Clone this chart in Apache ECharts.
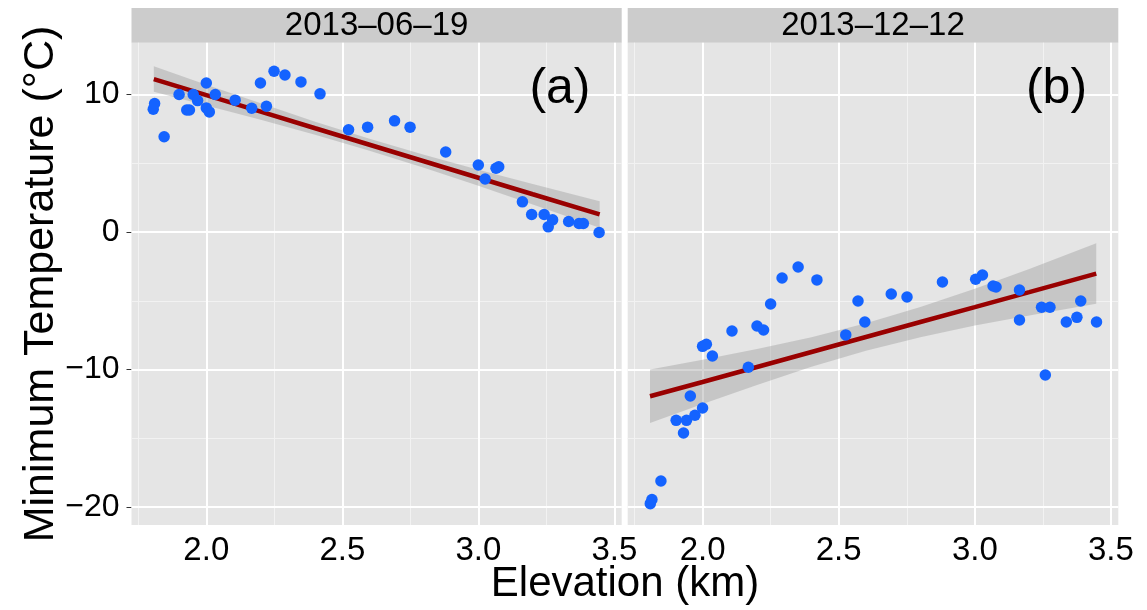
<!DOCTYPE html>
<html>
<head>
<meta charset="utf-8">
<script src="https://cdn.jsdelivr.net/npm/echarts@6/dist/echarts.min.js"></script>
<style>
  html, body { margin: 0; padding: 0; background: #fff; }
  #chart { width: 1147px; height: 610px; }
</style>
</head>
<body>
<div id="chart"></div>
<script>
// Minimum temperature vs elevation, two dates, linear fit with 95% band.
var panelDates = ["2013\u201306\u201319", "2013\u201312\u201312"];
var panelTags = ["(a)", "(b)"];

var juneElev = [1.805, 1.81, 1.845, 1.90, 1.928, 1.938, 1.952, 1.968, 2.0, 2.0, 2.011, 2.033, 2.106,
  2.167, 2.199, 2.221, 2.249, 2.289, 2.348, 2.418, 2.523, 2.593, 2.692, 2.749, 2.880, 3.0, 3.025,
  3.065, 3.075, 3.162, 3.196, 3.242, 3.257, 3.273, 3.332, 3.370, 3.386, 3.444];
var juneTemp = [8.93, 9.35, 6.93, 10.0, 8.88, 8.88, 10.0, 9.56, 10.84, 9.03, 8.74, 10.0, 9.59,
  9.0, 10.84, 9.15, 11.69, 11.42, 10.92, 10.05, 7.44, 7.63, 8.09, 7.63, 5.82, 4.88, 3.86,
  4.64, 4.75, 2.2, 1.28, 1.28, 0.38, 0.89, 0.77, 0.62, 0.62, -0.03];

var decElev = [1.808, 1.814, 1.847, 1.903, 1.930, 1.941, 1.955, 1.972, 2.0, 2.0, 2.014, 2.036, 2.108,
  2.168, 2.2, 2.224, 2.25, 2.292, 2.351, 2.42, 2.526, 2.571, 2.596, 2.693, 2.751, 2.881, 3.003,
  3.028, 3.067, 3.078, 3.164, 3.164, 3.245, 3.276, 3.259, 3.336, 3.375, 3.389, 3.447];
var decTemp = [-19.75, -19.45, -18.1, -13.69, -14.61, -13.69, -11.92, -13.32, -12.79, -8.31, -8.16, -9.01, -7.19,
  -9.83, -6.83, -7.12, -5.23, -3.34, -2.54, -3.48, -7.48, -5.01, -6.54, -4.50, -4.72, -3.63, -3.43,
  -3.12, -3.92, -3.99, -4.21, -6.39, -5.47, -5.47, -10.39, -6.54, -6.2, -5.01, -6.54];

// fitted line and band, read at a few elevations
var fitElev = [1.807, 2.0, 2.2, 2.4, 2.6, 2.8, 3.0, 3.2, 3.446];
var juneFit = [11.12, 9.96, 8.76, 7.55, 6.35, 5.15, 3.95, 2.75, 1.28];
var juneLo  = [10.20, 9.20, 8.16, 7.07, 5.92, 4.68, 3.37, 2.01, 0.32];
var juneHi  = [12.05, 10.72, 9.36, 8.03, 6.78, 5.62, 4.53, 3.49, 2.25];
var decFit = [-11.94, -10.90, -9.81, -8.72, -7.63, -6.54, -5.46, -4.37, -3.02];
var decLo  = [-13.88, -12.51, -11.12, -9.80, -8.63, -7.64, -6.80, -6.06, -5.22];
var decHi  = [-10.00, -9.29, -8.50, -7.64, -6.63, -5.44, -4.12, -2.68, -0.82];

// axis ticks
var elevTicks = [2.0, 2.5, 3.0, 3.5];
var elevMinor = [1.75, 2.25, 2.75, 3.25];
var tempTicks = [-20, -10, 0, 10];
var tempMinor = [-15, -5, 5];
var tagPos = [3.30, 10.4];

var FONT = "Liberation Sans, Arial, Helvetica, sans-serif";
var xLim = [1.725, 3.527], yLim = [-21.3, 13.77];
var grids = [
  { left: 131.5, top: 42.7, width: 490.2, height: 482.3 },
  { left: 627.7, top: 42.7, width: 490.6, height: 482.3 }
];

function zip(a, b) { return a.map(function (v, i) { return [v, b[i]]; }); }

function gridLines(i) {
  var minor = { color: "#F2F2F2", width: 1, type: "solid" };
  var major = { color: "#FFFFFF", width: 2, type: "solid" };
  var d = [];
  elevMinor.forEach(function (v) { d.push({ xAxis: v, lineStyle: minor }); });
  tempMinor.forEach(function (v) { d.push({ yAxis: v, lineStyle: minor }); });
  elevTicks.forEach(function (v) { d.push({ xAxis: v, lineStyle: major }); });
  tempTicks.forEach(function (v) { d.push({ yAxis: v, lineStyle: major }); });
  return { type: "scatter", xAxisIndex: i, yAxisIndex: i, data: [], silent: true, z: 1,
    markLine: { silent: true, z: 1, symbol: ["none", "none"], label: { show: false },
      lineStyle: { type: "solid" }, emphasis: { disabled: true }, data: d } };
}

// confidence band as one polygon: upper edge left→right, lower edge back
function bandSeries(i, lo, hi) {
  var rows = fitElev.map(function (x, k) { return [x, lo[k], hi[k]]; });
  return { type: "custom", xAxisIndex: i, yAxisIndex: i, data: rows, silent: true, z: 2,
    encode: { x: 0, y: [1, 2] },
    renderItem: function (params, api) {
      if (params.dataIndex !== 0) return null;
      var pts = [];
      rows.forEach(function (r) { pts.push(api.coord([r[0], r[2]])); });
      for (var k = rows.length - 1; k >= 0; k--) pts.push(api.coord([rows[k][0], rows[k][1]]));
      return { type: "polygon", shape: { points: pts }, style: { fill: "#999999", opacity: 0.4 } };
    } };
}

function panelSeries(i, xs, ys, fit, lo, hi) {
  return [
    gridLines(i),
    bandSeries(i, lo, hi),
    { type: "line", xAxisIndex: i, yAxisIndex: i, data: zip(fitElev, fit), symbol: "none",
      lineStyle: { color: "#990000", width: 4.5 }, silent: true, z: 3 },
    { type: "scatter", xAxisIndex: i, yAxisIndex: i, data: zip(xs, ys), symbolSize: 11.5,
      itemStyle: { color: "#1463FF", opacity: 1 }, z: 4 }
  ];
}

function xAxisFor(i) {
  return { type: "value", gridIndex: i, min: xLim[0], max: xLim[1],
    axisLine: { show: false }, splitLine: { show: false },
    axisTick: { show: true, length: 5, lineStyle: { color: "#333" }, customValues: elevTicks },
    axisLabel: { customValues: elevTicks, fontSize: 33, fontFamily: FONT, color: "#000", margin: 9,
      formatter: function (v) { return Number(v).toFixed(1); } } };
}

function yAxisFor(i) {
  return { type: "value", gridIndex: i, min: yLim[0], max: yLim[1],
    axisLine: { show: false }, splitLine: { show: false },
    axisTick: { show: i === 0, length: 5, lineStyle: { color: "#333" }, customValues: tempTicks },
    axisLabel: { show: i === 0, customValues: tempTicks, fontSize: 32, fontFamily: FONT, color: "#000",
      margin: 12, formatter: function (v) { return v < 0 ? "\u2212" + Math.abs(v) : String(v); } } };
}

var graphics = [];
grids.forEach(function (g, i) {
  graphics.push({ type: "rect", shape: { x: g.left, y: 8, width: g.width, height: 34.7 },
    style: { fill: "#CCCCCC" }, silent: true });
  graphics.push({ type: "text", x: g.left + g.width / 2, y: 26,
    style: { text: panelDates[i], fontSize: 33, fontFamily: FONT, fill: "#000",
      textAlign: "center", textVerticalAlign: "middle" }, silent: true });
});
graphics.push({ type: "text", x: 625, y: 584,
  style: { text: "Elevation (km)", fontSize: 42, fontFamily: FONT, fill: "#000",
    textAlign: "center", textVerticalAlign: "middle" }, silent: true });
graphics.push({ type: "text", x: 41, y: 284, rotation: Math.PI / 2,
  style: { text: "Minimum Temperature (\u00B0C)", fontSize: 43, fontFamily: FONT, fill: "#000",
    textAlign: "center", textVerticalAlign: "middle" }, silent: true });

var chart = echarts.init(document.getElementById("chart"));
chart.setOption({
  animation: false,
  backgroundColor: "#FFFFFF",
  grid: grids.map(function (g) {
    return { left: g.left, top: g.top, width: g.width, height: g.height,
      show: true, backgroundColor: "#E5E5E5", borderWidth: 0, containLabel: false };
  }),
  xAxis: [xAxisFor(0), xAxisFor(1)],
  yAxis: [yAxisFor(0), yAxisFor(1)],
  series: [].concat(
    panelSeries(0, juneElev, juneTemp, juneFit, juneLo, juneHi),
    panelSeries(1, decElev, decTemp, decFit, decLo, decHi)
  )
});

// panel tags placed at a data position through the axes' own scales
grids.forEach(function (g, i) {
  var p = chart.convertToPixel({ gridIndex: i }, tagPos);
  graphics.push({ type: "text", x: p[0], y: p[1], z: 10,
    style: { text: panelTags[i], fontSize: 50, fontFamily: FONT, fill: "#000",
      textAlign: "center", textVerticalAlign: "middle" }, silent: true });
});
chart.setOption({ graphic: graphics });
</script>
</body>
</html>
